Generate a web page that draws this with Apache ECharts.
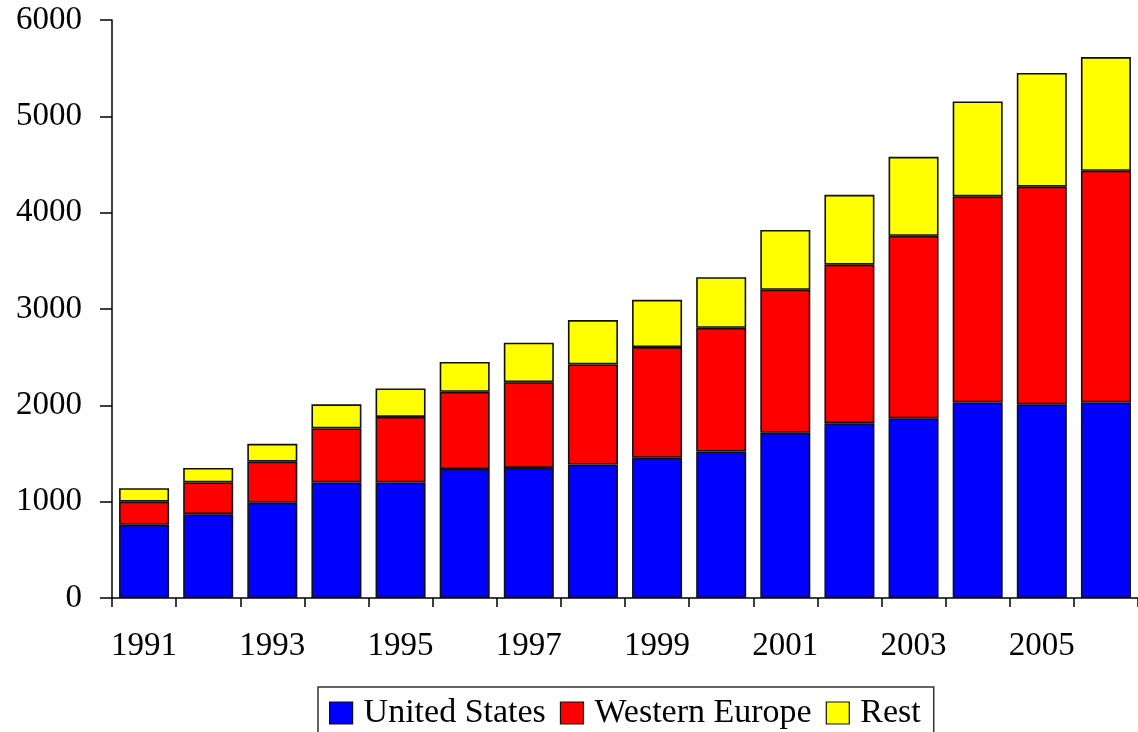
<!DOCTYPE html>
<html>
<head>
<meta charset="utf-8">
<style>
  html, body { margin: 0; padding: 0; background: #ffffff; }
  #chart { width: 1138px; height: 732px; }
</style>
<script src="https://cdn.jsdelivr.net/npm/echarts@6/dist/echarts.min.js"></script>
</head>
<body>
<div id="chart"></div>
<script>
// Years on the category axis
const years = ['1991', '1992', '1993', '1994', '1995', '1996', '1997', '1998',
               '1999', '2000', '2001', '2002', '2003', '2004', '2005', '2006'];

// Stacked segments per year
const unitedStates = [760, 870, 990, 1200, 1200, 1340, 1350, 1385, 1455, 1520, 1715, 1815, 1865, 2030, 2010, 2030];
const westernEurope = [240, 330, 425, 560, 680, 800, 890, 1040, 1150, 1285, 1485, 1645, 1895, 2140, 2260, 2405];
const rest = [140, 150, 185, 250, 295, 310, 410, 460, 490, 525, 620, 725, 820, 985, 1180, 1180];

const seriesNames = ['United States', 'Western Europe', 'Rest'];
const seriesColors = ['#0000ff', '#ff0000', '#ffff00'];

const FONT = '"Liberation Serif", "Times New Roman", serif';

const chart = echarts.init(document.getElementById('chart'), null, { renderer: 'canvas' });

function barSeries(name, data, color) {
  return {
    name: name,
    type: 'bar',
    stack: 'total',
    data: data,
    barCategoryGap: '22%',
    itemStyle: { color: color, borderColor: '#111111', borderWidth: 1.6 },
    emphasis: { disabled: true }
  };
}

chart.setOption({
  animation: false,
  backgroundColor: '#ffffff',
  grid: { left: 112, top: 20, width: 1031, bottom: 134, containLabel: false },
  legend: {
    left: 318,
    top: 687,
    orient: 'horizontal',
    icon: 'rect',
    itemWidth: 23,
    itemHeight: 22,
    itemGap: 14,
    padding: [9, 13, 10, 11],
    borderColor: '#333333',
    borderWidth: 1.5,
    itemStyle: { borderColor: '#111111', borderWidth: 1.2 },
    textStyle: { fontFamily: FONT, fontSize: 34, color: '#000000', padding: [0, 0, 0, 6] },
    data: seriesNames
  },
  xAxis: {
    type: 'category',
    data: years,
    axisLine: { show: true, lineStyle: { color: '#000000', width: 1.5 } },
    axisTick: { show: true, interval: 0, length: 9, lineStyle: { color: '#000000', width: 1.5 } },
    axisLabel: { interval: 1, margin: 32, fontFamily: FONT, fontSize: 33, color: '#000000' },
    splitLine: { show: false }
  },
  yAxis: {
    type: 'value',
    min: 0,
    max: 6000,
    interval: 1000,
    axisLine: { show: true, lineStyle: { color: '#000000', width: 1.5 } },
    axisTick: { show: true, length: 12, lineStyle: { color: '#000000', width: 1.5 } },
    axisLabel: {
      margin: 30,
      fontFamily: FONT,
      fontSize: 33,
      color: '#000000',
      formatter: function (v) { return String(v); }
    },
    splitLine: { show: false }
  },
  series: [
    barSeries(seriesNames[0], unitedStates, seriesColors[0]),
    barSeries(seriesNames[1], westernEurope, seriesColors[1]),
    barSeries(seriesNames[2], rest, seriesColors[2])
  ]
});
</script>
</body>
</html>
